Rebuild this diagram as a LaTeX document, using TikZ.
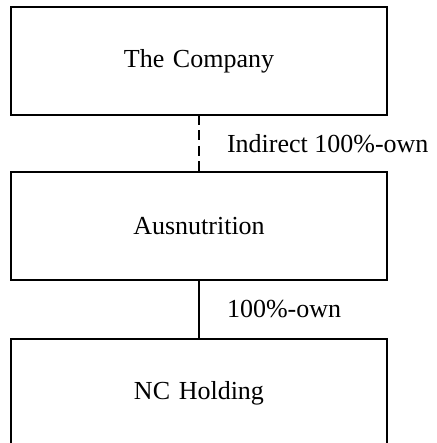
\documentclass[tikz,border=0pt]{standalone}
\usepackage{fontspec}
\setmainfont{Liberation Serif}
\usetikzlibrary{positioning}
\tikzset{
  node distance=57pt,
  every node/.style={outer sep=0mm,inner sep=0mm}
}
\tikzset{entity/.style={
    draw,
    text width=#1,
    minimum height=108pt,
    align=center,
    font=\fontsize{26}{30}\selectfont
  },
  entity/.default=376pt}
\tikzset{share/.style={
    right=28pt,
    font=\fontsize{26}{30}\selectfont
  }}

\begin{document}
\begin{tikzpicture}[x=1pt,y=1pt,line width=1.1pt]
  \useasboundingbox (0,0) rectangle (436,-443);

  \node (Company)      [entity] at (199,-61)          {The Company};
  \node (Ausnutrition) [entity,below=of Company]      {Ausnutrition};
  \node (NCHolding)    [entity,below=59pt of Ausnutrition] {NC Holding};

  \draw [dash pattern=on 10pt off 5.5pt] (Company) -- node [share] {Indirect 100\%-own} (Ausnutrition);
  \draw (Ausnutrition) -- node [share] {100\%-own} (NCHolding);
\end{tikzpicture}
\end{document}
